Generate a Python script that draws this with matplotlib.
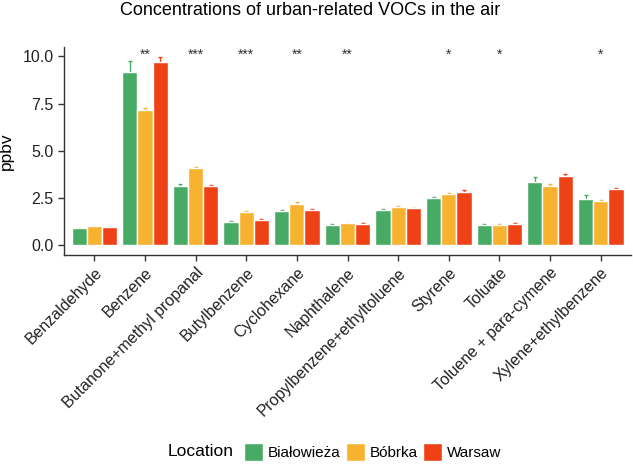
import matplotlib.pyplot as plt
import numpy as np

plt.rcParams['font.family'] = ['Liberation Sans', 'DejaVu Sans']

# compounds on the x axis
COMPOUNDS = [
    "Benzaldehyde", "Benzene", "Butanone+methyl propanal", "Butylbenzene",
    "Cyclohexane", "Naphthalene", "Propylbenzene+ethyltoluene", "Styrene",
    "Toluate", "Toluene + para-cymene", "Xylene+ethylbenzene",
]

LOCATIONS = ["Białowieża", "Bóbrka", "Warsaw"]
COLORS = ["#48ab65", "#f7b22f", "#ee4216"]

# mean concentrations (ppbv)
bialowieza = [0.90, 9.18, 3.15, 1.25, 1.80, 1.08, 1.87, 2.53, 1.08, 3.38, 2.43]
bobrka = [1.00, 7.16, 4.10, 1.79, 2.18, 1.18, 2.04, 2.70, 1.08, 3.16, 2.37]
warsaw = [0.96, 9.68, 3.14, 1.36, 1.86, 1.13, 1.96, 2.81, 1.15, 3.66, 2.98]

# error bar half-widths
err_bialowieza = [0.04, 0.56, 0.10, 0.04, 0.05, 0.03, 0.04, 0.04, 0.03, 0.24, 0.24]
err_bobrka = [0.03, 0.12, 0.05, 0.05, 0.12, 0.03, 0.04, 0.06, 0.04, 0.09, 0.05]
err_warsaw = [0.03, 0.28, 0.05, 0.05, 0.04, 0.03, 0.04, 0.11, 0.05, 0.12, 0.06]

# significance markers
STARS = ["", "**", "***", "***", "**", "**", "", "*", "*", "", "*"]

means = [bialowieza, bobrka, warsaw]
errs = [err_bialowieza, err_bobrka, err_warsaw]

fig = plt.figure(figsize=(6.33, 4.65), dpi=100)
ax = fig.add_axes([0.101, 0.452, 0.896, 0.447])

x = np.arange(1, len(COMPOUNDS) + 1)
width = 0.3
offsets = [-width, 0, width]

for i, loc in enumerate(LOCATIONS):
    ax.errorbar(x + offsets[i], means[i], yerr=errs[i], fmt="none",
                ecolor=COLORS[i], elinewidth=1.0, capsize=1.5, capthick=1.0, zorder=1)
    ax.bar(x + offsets[i], means[i], width, color=COLORS[i],
           edgecolor="white", linewidth=1.0, label=loc, zorder=2)

for xi, s in zip(x, STARS):
    if s:
        ax.text(xi, 10.1, s, ha="center", va="center", fontsize=10, color="#333333")

ax.set_xlim(0.4, len(COMPOUNDS) + 0.6)
ax.set_ylim(-0.5, 10.5)
ax.set_yticks([0, 2.5, 5, 7.5, 10])
ax.set_yticklabels(["0.0", "2.5", "5.0", "7.5", "10.0"])
ax.set_xticks(x)
ax.set_xticklabels(COMPOUNDS, rotation=45, ha="right", rotation_mode="anchor")

for side in ["top", "right"]:
    ax.spines[side].set_visible(False)
for side in ["left", "bottom"]:
    ax.spines[side].set_color("#333333")
    ax.spines[side].set_linewidth(1.0)
ax.tick_params(axis="both", colors="#333333", labelsize=11.5, length=4, width=1.0)
ax.tick_params(axis="both", labelcolor="#222222")

ax.set_ylabel("ppbv", fontsize=12.5, color="black", labelpad=6)

fig.text(0.49, 0.978, "Concentrations of urban-related VOCs in the air",
         ha="center", va="center", fontsize=13)

# legend with title on the left
fig.text(0.265, 0.028, "Location", ha="left", va="center", fontsize=12.5)
handles, labels = ax.get_legend_handles_labels()
fig.legend(handles, labels, loc="center left", bbox_to_anchor=(0.374, 0.028),
           ncol=3, frameon=False, fontsize=11, handlelength=1.25, handleheight=1.5,
           handletextpad=0.3, columnspacing=0.35, borderpad=0)

fig.savefig("out.png", dpi=100)
